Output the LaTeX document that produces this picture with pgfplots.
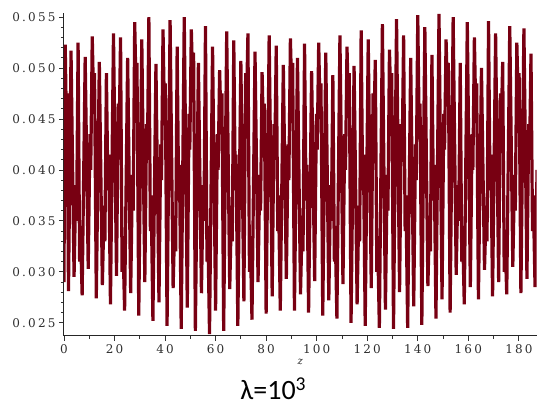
\documentclass[border=0pt]{standalone}
\usepackage{fontspec}
\setmainfont{DejaVu Serif}
\newfontfamily\tickfont[LetterSpace=18]{DejaVu Serif}
\newfontfamily\capfont{Carlito}
\usepackage{pgfplots}
\pgfplotsset{compat=1.18}

\definecolor{maplered}{RGB}{120,0,18}
\definecolor{labelgray}{RGB}{45,45,45}

\begin{document}
\begin{tikzpicture}
\begin{axis}[
    name=ax,
    at={(0,0)}, anchor=south west,
    width=473bp, height=323bp, scale only axis,
    xmin=0, xmax=187,
    ymin=0.02373, ymax=0.0554,
    axis lines=left,
    axis line style={-, line width=0.9pt, color=black!85},
    tick align=outside,
    major tick length=5bp, minor tick length=3bp,
    tick style={line width=0.8pt, color=black!80},
    xtick={0,20,40,60,80,100,120,140,160,180},
    xticklabels={0,20,40,60,80,100,120,140,160,180},
    minor x tick num=1,
    ytick={0.025,0.030,0.035,0.040,0.045,0.050,0.055},
    yticklabels={0.025,0.030,0.035,0.040,0.045,0.050,0.055},
    minor y tick num=4,
    scaled y ticks=false,
    tick label style={font=\tickfont\fontsize{12bp}{14bp}\selectfont, text=labelgray},
    /pgf/number format/assume math mode=true,
    clip=true,
]
\addplot[color=maplered, line width=3.2bp] coordinates {
(0,0.0290) (0.5,0.0523) (1.0,0.044) (1.2,0.0475) (1.8,0.0281)
(2.8,0.0517) (4.0,0.0295) (4.7,0.0385) (5.0,0.035)
(5.6,0.0525) (6.2,0.031) (6.5,0.0345) (7.2,0.0277)
(8.4,0.0511) (9.6,0.0303) (10.3,0.0435) (10.6,0.040)
(11.2,0.0531) (11.8,0.046) (12.1,0.0495) (12.8,0.0274)
(14.0,0.0506) (15.2,0.0287) (15.9,0.0365) (16.2,0.033)
(16.8,0.0495) (17.4,0.038) (17.7,0.0415) (18.4,0.0268)
(19.6,0.0534) (20.8,0.0296) (21.5,0.0465) (21.8,0.043)
(22.4,0.0530) (23.0,0.030) (23.3,0.0335) (24.0,0.0262)
(25.2,0.0510) (26.4,0.0279) (27.1,0.0395) (27.4,0.036)
(28.0,0.0545) (28.6,0.047) (28.9,0.0505) (29.6,0.0257)
(30.8,0.0528) (32.0,0.0290) (32.7,0.0445) (33.0,0.041)
(33.6,0.0550) (34.2,0.034) (34.5,0.0375) (35.2,0.0252)
(36.4,0.0504) (37.6,0.0270) (38.3,0.0425) (38.6,0.039)
(39.2,0.0538) (39.8,0.045) (40.1,0.0485) (40.8,0.0247)
(42.0,0.0547) (43.2,0.0284) (43.9,0.0355) (44.2,0.032)
(44.8,0.0521) (45.4,0.037) (45.7,0.0405) (46.4,0.0244)
(47.6,0.0550) (48.8,0.0265) (49.5,0.0455) (49.8,0.042)
(50.4,0.0538) (51.0,0.048) (51.3,0.0515) (52.0,0.0242)
(53.2,0.0505) (54.4,0.0279) (55.1,0.0385) (55.4,0.035)
(56.0,0.0541) (56.6,0.031) (56.9,0.0345) (57.6,0.0239)
(58.8,0.0521) (60.0,0.0262) (60.7,0.0435) (61.0,0.040)
(61.6,0.0498) (62.2,0.044) (62.5,0.0475) (63.2,0.0242)
(64.4,0.0536) (65.6,0.0283) (66.3,0.0365) (66.6,0.033)
(67.2,0.0527) (67.8,0.038) (68.1,0.0415) (68.8,0.0247)
(70.0,0.0507) (71.2,0.0271) (71.9,0.0495) (72.2,0.046)
(72.8,0.0534) (73.4,0.030) (73.7,0.0335) (74.4,0.0253)
(75.6,0.0516) (76.8,0.0290) (77.5,0.0395) (77.8,0.036)
(78.4,0.0496) (79.0,0.043) (79.3,0.0465) (80.0,0.0259)
(81.2,0.0532) (82.4,0.0276) (83.1,0.0445) (83.4,0.041)
(84.0,0.0522) (84.6,0.034) (84.9,0.0375) (85.6,0.0262)
(86.8,0.0503) (88.0,0.0293) (88.7,0.0425) (89.0,0.039)
(89.6,0.0529) (90.2,0.047) (90.5,0.0505) (91.2,0.0262)
(92.4,0.0510) (93.6,0.0278) (94.3,0.0355) (94.6,0.032)
(95.2,0.0524) (95.8,0.037) (96.1,0.0405) (96.8,0.0260)
(98.0,0.0497) (99.2,0.0291) (99.9,0.0455) (100.2,0.042)
(100.8,0.0525) (101.4,0.045) (101.7,0.0485) (102.4,0.0257)
(103.6,0.0515) (104.8,0.0272) (105.5,0.0385) (105.8,0.035)
(106.4,0.0493) (107.0,0.031) (107.3,0.0345) (108.0,0.0254)
(109.2,0.0532) (110.4,0.0288) (111.1,0.0435) (111.4,0.040)
(112.0,0.0521) (112.6,0.046) (112.9,0.0495) (113.6,0.0250)
(114.8,0.0502) (116.0,0.0268) (116.7,0.0365) (117.0,0.033)
(117.6,0.0537) (118.2,0.038) (118.5,0.0415) (119.2,0.0247)
(120.4,0.0528) (121.6,0.0284) (122.3,0.0475) (122.6,0.044)
(123.2,0.0508) (123.8,0.030) (124.1,0.0335) (124.8,0.0245)
(126.0,0.0543) (127.2,0.0263) (127.9,0.0395) (128.2,0.036)
(128.8,0.0518) (129.4,0.046) (129.7,0.0495) (130.4,0.0244)
(131.6,0.0548) (132.8,0.0280) (133.5,0.0445) (133.8,0.041)
(134.4,0.0532) (135.0,0.034) (135.3,0.0375) (136.0,0.0245)
(137.2,0.0510) (138.4,0.0266) (139.1,0.0425) (139.4,0.039)
(140.0,0.0552) (140.6,0.043) (140.9,0.0465) (141.6,0.0248)
(142.8,0.0540) (144.0,0.0286) (144.7,0.0355) (145.0,0.032)
(145.6,0.0513) (146.2,0.037) (146.5,0.0405) (147.2,0.0254)
(148.4,0.0553) (149.6,0.0273) (150.3,0.0455) (150.6,0.042)
(151.2,0.0528) (151.8,0.047) (152.1,0.0505) (152.8,0.0260)
(154.0,0.0550) (155.2,0.0297) (155.9,0.0385) (156.2,0.035)
(156.8,0.0505) (157.4,0.031) (157.7,0.0345) (158.4,0.0268)
(159.6,0.0545) (160.8,0.0285) (161.5,0.0435) (161.8,0.040)
(162.4,0.0530) (163.0,0.045) (163.3,0.0485) (164.0,0.0273)
(165.2,0.0500) (166.4,0.0302) (167.1,0.0365) (167.4,0.033)
(168.0,0.0546) (168.6,0.038) (168.9,0.0415) (169.6,0.0276)
(170.8,0.0534) (172.0,0.0290) (172.7,0.0475) (173.0,0.044)
(173.6,0.0506) (174.2,0.030) (174.5,0.0335) (175.2,0.0278)
(176.4,0.0541) (177.6,0.0305) (178.3,0.0395) (178.6,0.036)
(179.2,0.0525) (179.8,0.046) (180.1,0.0495) (180.8,0.0279)
(182.0,0.0539) (183.2,0.0293) (183.9,0.0445) (184.2,0.041)
(184.8,0.0514) (185.4,0.034) (185.7,0.0375) (186.4,0.0285) (187.2,0.040)
};
\end{axis}
% axis label and caption
\node[font=\itshape\fontsize{10bp}{12bp}\selectfont, text=labelgray] at ([yshift=-26bp]ax.south) {z};
\node[anchor=base, inner sep=0pt, font=\capfont\fontsize{28bp}{30bp}\selectfont] at ([xshift=-27bp,yshift=-64bp]ax.south) {λ=10\textsuperscript{3}};
% page size as the reference
\path ([xshift=-64bp,yshift=-70bp]ax.south west) rectangle ([yshift=13bp]ax.north east);
\end{tikzpicture}
\end{document}
